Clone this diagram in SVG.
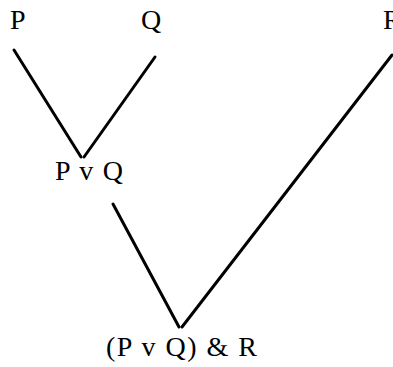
<svg xmlns="http://www.w3.org/2000/svg" width="393" height="367" viewBox="0 0 393 367">
<style>
text{font-family:"Liberation Serif","DejaVu Serif",serif;font-size:28px;fill:#000}
.e{stroke:#000;stroke-width:3;stroke-linecap:round;fill:none}
</style>
<rect width="393" height="367" fill="#fff"/>
<g id="connectors">
<line class="e" x1="14" y1="50" x2="81" y2="157"/>
<line class="e" x1="155" y1="57" x2="84" y2="157"/>
<line class="e" x1="113" y1="204" x2="179" y2="327"/>
<line class="e" x1="392" y1="55" x2="182" y2="327"/>
</g>
<g id="nP"><text x="10" y="29">P</text></g>
<g id="nQ"><text x="141" y="29">Q</text></g>
<g id="nR"><text x="383" y="29">R</text></g>
<g id="nPvQ"><text x="55" y="180" textLength="68" lengthAdjust="spacing">P v Q</text></g>
<g id="nAnd"><text x="106" y="356" textLength="151" lengthAdjust="spacing">(P v Q) &amp; R</text></g>
</svg>
